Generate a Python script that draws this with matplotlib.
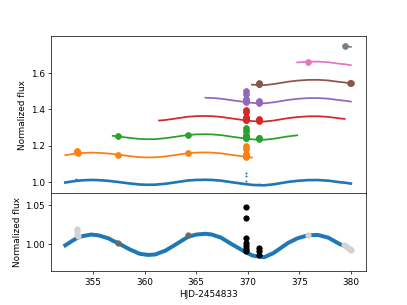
import numpy as np
import matplotlib.pyplot as plt

# model light curve
model_t = [352.3, 353.0, 353.5, 354.0, 354.8, 355.5, 356.5, 356.9, 357.4, 358.5,
           359.5, 360.3, 361.0, 361.4, 362.0, 363.0, 364.2, 365.0, 365.9, 366.5,
           367.4, 368.5, 369.8, 370.4, 370.7, 371.6, 372.5, 373.9, 374.8, 375.8,
           376.8, 377.8, 379.0, 379.4, 380.0]
model_f = [0.998, 1.004, 1.008, 1.010, 1.012, 1.011, 1.007, 1.004, 1.001, 0.993,
           0.987, 0.9855, 0.986, 0.988, 0.991, 0.999, 1.009, 1.012, 1.013, 1.012,
           1.008, 0.999, 0.989, 0.985, 0.984, 0.9825, 0.988, 1.001, 1.007, 1.011,
           1.0115, 1.008, 0.999, 0.997, 0.992]

# one segment per colour: model range, vertical offset, data times
seg_start = [352.3, 352.3, 356.9, 361.4, 365.9, 370.4, 374.8, 379.4]
seg_end = [380.0, 370.4, 374.9, 379.4, 380.0, 380.0, 380.0, 380.0]
seg_offset = [0.0, 0.15, 0.25, 0.35, 0.45, 0.55, 0.65, 0.75]
seg_times = [[],
             [353.5, 357.4, 364.2, 369.8],
             [357.4, 364.2, 369.8, 371.1],
             [369.8, 371.1],
             [369.8, 371.1],
             [371.1, 379.9],
             [375.8],
             [379.4]]

# observed points
obs_t = [353.4, 353.4, 353.4, 353.5, 357.4, 364.2,
         369.8, 369.8, 369.8, 369.8, 369.8, 369.8, 369.8,
         371.1, 371.1, 371.1, 375.8,
         379.3, 379.5, 379.7, 379.9, 380.0]
obs_f = [1.019, 1.016, 1.013, 1.010, 1.001, 1.011,
         1.048, 1.033, 1.007, 1.001, 0.997, 0.993, 0.990,
         0.994, 0.990, 0.986, 1.011,
         0.998, 0.997, 0.995, 0.993, 0.992]
obs_col = ['lightgray'] * 4 + ['dimgray'] * 2 + ['black'] * 10 + ['lightgray'] * 6

# blue points in the upper panel
blue_t = [353.3, 353.3, 369.8, 369.8, 369.8, 371.1]
blue_f = [1.010, 1.016, 1.051, 1.033, 1.005, 0.988]

colors = plt.rcParams['axes.prop_cycle'].by_key()['color']

fig, (ax1, ax2) = plt.subplots(2, 1, sharex=True, figsize=(6.4, 4.8), dpi=63.6,
                               gridspec_kw={'height_ratios': [2, 1], 'hspace': 0})

mt = np.array(model_t)
mf = np.array(model_f)
ot = np.array(obs_t)
of = np.array(obs_f)

for i in range(len(seg_offset)):
    c = colors[i]
    m = (mt >= seg_start[i] - 1e-6) & (mt <= seg_end[i] + 1e-6)
    ax1.plot(mt[m], mf[m] + seg_offset[i], color=c, lw=3 if i == 0 else 2)
    if i == 0:
        ax1.plot(blue_t, blue_f, '.', color=c, ms=2.5)
        continue
    for t in seg_times[i]:
        sel = np.abs(ot - t) < 0.15
        if i == 7 or not sel.any():
            # single point sitting on the model
            sel = np.abs(mt - t) < 0.05
            ax1.plot(mt[sel], mf[sel] + seg_offset[i], 'o', color=c, ms=6.5)
        else:
            ax1.plot(ot[sel], of[sel] + seg_offset[i], 'o', color=c, ms=6.5)

ax1.set_ylim(0.94, 1.80)
ax1.set_yticks([1.0, 1.2, 1.4, 1.6])
ax1.set_ylabel('Normalized flux')

ax2.plot(model_t, model_f, color=colors[0], lw=4.5)
for t, f, c in zip(obs_t, obs_f, obs_col):
    ax2.plot(t, f, 'o', color=c, ms=6)
ax2.set_ylim(0.964, 1.066)
ax2.set_yticks([1.00, 1.05])
ax2.set_ylabel('Normalized flux')
ax2.set_xlabel('HJD-2454833')
ax2.set_xlim(350.9, 381.5)

fig.savefig('out.png', dpi=63.6)
